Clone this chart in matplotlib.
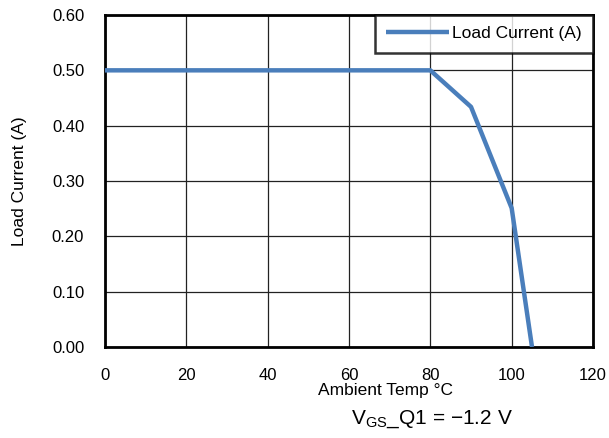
import matplotlib
matplotlib.use("Agg")
import matplotlib.pyplot as plt

temps = [0, 80, 90, 100, 105]
current = [0.50, 0.50, 0.434, 0.251, 0.0]
xticks = [0, 20, 40, 60, 80, 100, 120]
yticks = [0.0, 0.1, 0.2, 0.3, 0.4, 0.5, 0.6]

plt.rcParams['font.family'] = ['Liberation Sans', 'DejaVu Sans']

fig = plt.figure(figsize=(6.09, 4.38), dpi=100)
ax = fig.add_axes([105/609, 1-347/438, (593-105)/609, (347-15)/438])

ax.plot(temps, current, color='#4A7EBB', linewidth=3.2, label='Load Current (A)',
        solid_capstyle='butt', zorder=3)

ax.set_xlim(0, 120)
ax.set_ylim(0, 0.6)
ax.set_xticks(xticks)
ax.set_yticks(yticks)
ax.set_xticklabels([str(v) for v in xticks], fontsize=12)
ax.set_yticklabels([f"{v:.2f}" for v in yticks], fontsize=12)
ax.tick_params(axis='both', length=0)
ax.tick_params(axis='x', pad=15)
ax.tick_params(axis='y', pad=15)
ax.grid(True, color='#222222', linewidth=0.9)
for s in ax.spines.values():
    s.set_linewidth(2.0)
    s.set_color('black')

leg = ax.legend(loc='upper right', fontsize=12.5, frameon=True, fancybox=False,
                borderaxespad=0, handlelength=3.6, handletextpad=0.2,
                borderpad=0.65)
leg.get_frame().set_edgecolor('black')
leg.get_frame().set_linewidth(1.8)

fig.text(20/609, 1-181/438, 'Load Current (A)', fontsize=12.5, rotation=90,
         ha='center', va='center')
fig.text(385/609, 1-391/438, 'Ambient Temp °C', fontsize=12.5, ha='center', va='center')
fig.text(432/609, 1-419/438, r'V$_{\mathregular{GS}}$_Q1 = −1.2 V', fontsize=15,
         ha='center', va='center')

fig.savefig('out.png', dpi=100)
